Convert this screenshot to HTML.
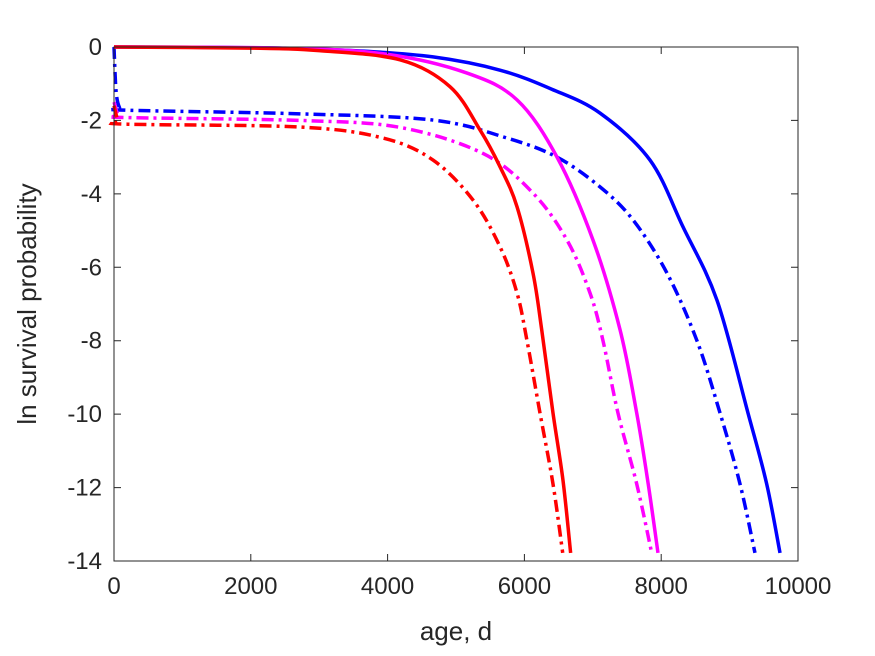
<!DOCTYPE html>
<html><head><meta charset="utf-8"><style>
html,body{margin:0;padding:0;background:#fff;}
svg{display:block;font-family:"Liberation Sans",sans-serif;}
</style></head><body>
<svg id="chart" width="875" height="656">
<rect x="0" y="0" width="875" height="656" fill="#fff"/>
<g id="plot"></g>
<g id="axes"></g>
<text x="456" y="640" text-anchor="middle" font-size="26" fill="#262626">age, d</text>
<text transform="translate(36,304) rotate(-90)" text-anchor="middle" font-size="26" fill="#262626">ln survival probability</text>
</svg>
<script>
const xTicks=[0,2000,4000,6000,8000,10000];
const yTicks=[0,-2,-4,-6,-8,-10,-12,-14];
const seriesNames=["blue-solid","blue-dashdot","magenta-solid","magenta-dashdot","red-solid","red-dashdot"];
const blueSolid=[[0,0],[2000,-0.02],[3500,-0.1],[4664,-0.27],[5643,-0.63],[6400,-1.15],[7105,-1.8],[7836,-3.08],[8319,-4.9],[8816,-6.9],[9269,-9.97],[9542,-11.9],[9737,-13.78]];
const blueDash=[[0,0],[30,-1.2],[80,-1.65],[150,-1.72],[2719,-1.82],[4664,-1.99],[5746,-2.48],[6477,-3.0],[7105,-3.81],[7588,-4.71],[8085,-6.16],[8523,-8.0],[8860,-9.97],[9152,-11.9],[9371,-13.78]];
const magSolid=[[0,0],[2500,-0.03],[4000,-0.2],[5161,-0.71],[5892,-1.44],[6477,-3.0],[7003,-5.26],[7398,-7.7],[7642,-9.97],[7810,-11.9],[7953,-13.78]];
const magDash=[[0,-1.5],[60,-1.85],[150,-1.92],[2719,-2.0],[4181,-2.19],[5395,-2.9],[6126,-3.98],[6623,-5.26],[6959,-6.7],[7149,-8.0],[7368,-9.97],[7642,-11.9],[7861,-13.78]];
const redSolid=[[0,0],[2000,-0.03],[3000,-0.1],[4181,-0.35],[4912,-1.08],[5351,-2.26],[5643,-3.26],[5892,-4.35],[6126,-6.16],[6253,-7.7],[6418,-9.97],[6564,-11.8],[6676,-13.78]];
const redDash=[[0,-1.6],[60,-2.0],[150,-2.1],[2719,-2.18],[3933,-2.48],[4664,-3.08],[5249,-4.17],[5643,-5.44],[5892,-6.7],[6038,-8.0],[6228,-9.97],[6418,-11.9],[6560,-13.78]];
const L=114,R=798,T=47,B=561;
const xs=v=>L+(v-0)/10000*(R-L);
const ys=v=>T+(0-v)/14*(B-T);
const NS="http://www.w3.org/2000/svg";
const plot=document.getElementById('plot'),axes=document.getElementById('axes');
function smooth(pts){
  const p=pts.map(d=>[xs(d[0]),ys(d[1])]);
  let s="M"+p[0][0]+","+p[0][1];
  for(let i=0;i<p.length-1;i++){
    const p0=p[i-1]||p[i],p1=p[i],p2=p[i+1],p3=p[i+2]||p2;
    const c1=[p1[0]+(p2[0]-p0[0])/6,p1[1]+(p2[1]-p0[1])/6];
    const c2=[p2[0]-(p3[0]-p1[0])/6,p2[1]-(p3[1]-p1[1])/6];
    s+=" C"+c1+" "+c2+" "+p2;
  }
  return s;
}
const defs=[[blueSolid,"#0000ff",null],[blueDash,"#0000ff","12,5,3,5"],[magSolid,"#ff00ff",null],[magDash,"#ff00ff","12,5,3,5"],[redSolid,"#ff0000",null],[redDash,"#ff0000","12,5,3,5"]];
defs.forEach((d,i)=>{
  const el=document.createElementNS(NS,'path');
  el.setAttribute('d',smooth(d[0]));
  el.setAttribute('fill','none');el.setAttribute('stroke',d[1]);el.setAttribute('stroke-width','3.5');
  if(d[2])el.setAttribute('stroke-dasharray',d[2]);
  
  
  plot.appendChild(el);
});
const box=document.createElementNS(NS,'rect');
box.setAttribute('x',L);box.setAttribute('y',T);box.setAttribute('width',R-L);box.setAttribute('height',B-T);
box.setAttribute('fill','none');box.setAttribute('stroke','#262626');box.setAttribute('stroke-width','1');


axes.appendChild(box);
xTicks.forEach(v=>{
  const x=xs(v);
  const t=document.createElementNS(NS,'path');
  t.setAttribute('d',`M${x},${B}v-7M${x},${T}v7`);t.setAttribute('stroke','#262626');
  
  
  axes.appendChild(t);
  const tx=document.createElementNS(NS,'text');
  tx.setAttribute('x',x);tx.setAttribute('y',B+33);tx.setAttribute('text-anchor','middle');tx.setAttribute('font-size','24');tx.setAttribute('fill','#262626');
  tx.textContent=v;
  
  
  axes.appendChild(tx);
});
yTicks.forEach(v=>{
  const y=ys(v);
  const t=document.createElementNS(NS,'path');
  t.setAttribute('d',`M${L},${y}h7M${R},${y}h-7`);t.setAttribute('stroke','#262626');
  
  
  axes.appendChild(t);
  const tx=document.createElementNS(NS,'text');
  tx.setAttribute('x',L-12);tx.setAttribute('y',y+8);tx.setAttribute('text-anchor','end');tx.setAttribute('font-size','24');tx.setAttribute('fill','#262626');
  tx.textContent=v;
  
  
  axes.appendChild(tx);
});
</script>
</body></html>
